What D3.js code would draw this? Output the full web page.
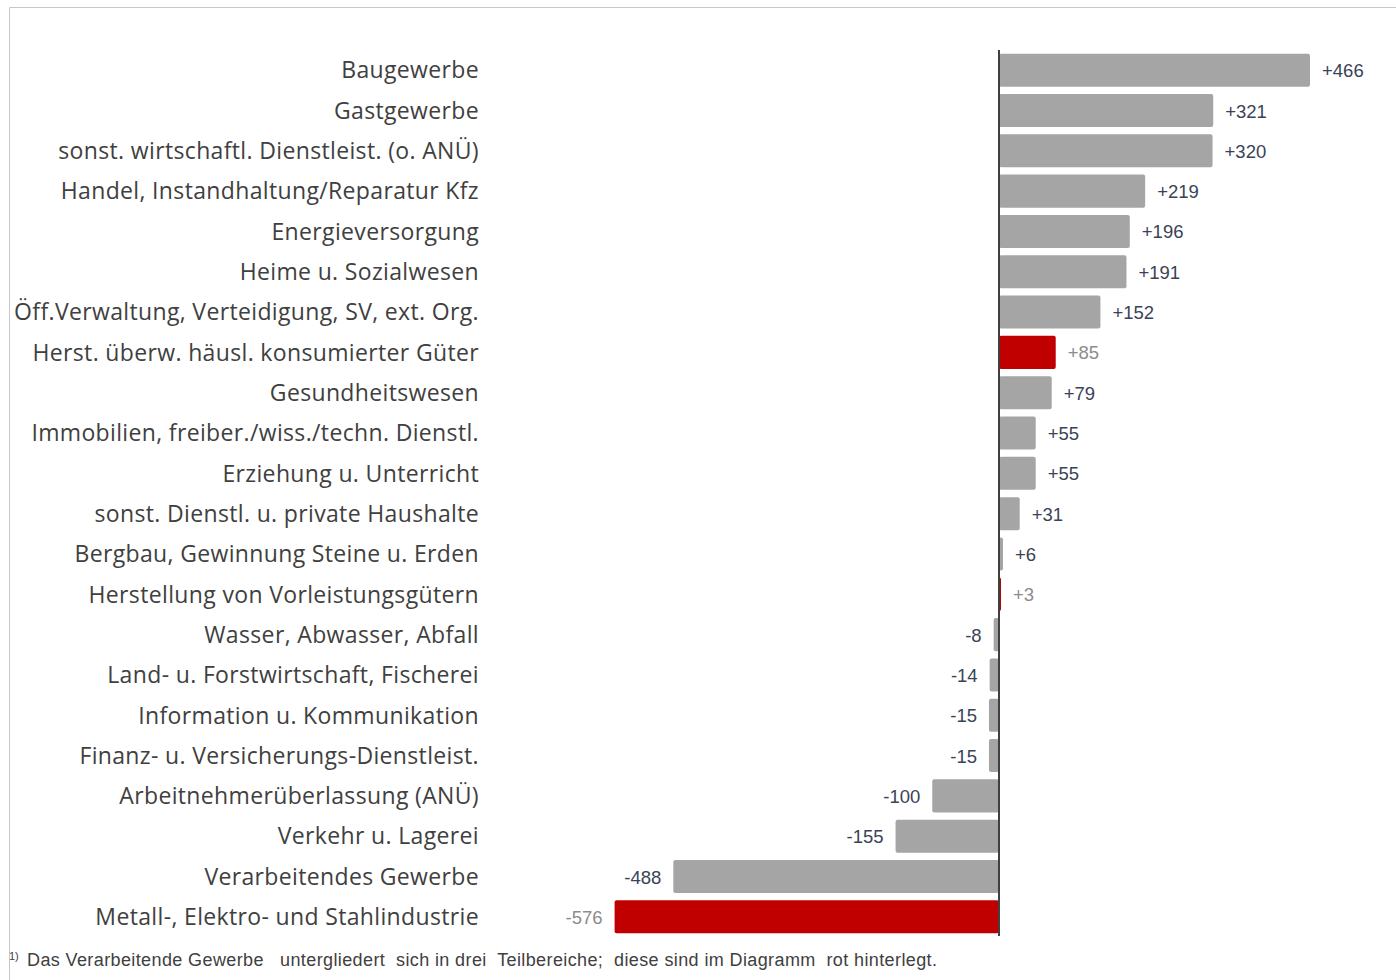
<!DOCTYPE html>
<html>
<head>
<meta charset="utf-8">
<script src="https://cdn.jsdelivr.net/npm/d3@7"></script>
<style>
  body { margin: 0; background: #fff; }
  svg { display: block; }
</style>
</head>
<body>
<script>
// branches, change in employees (sorted as in the picture)
var branches = [
  "Baugewerbe",
  "Gastgewerbe",
  "sonst. wirtschaftl. Dienstleist. (o. ANÜ)",
  "Handel, Instandhaltung/Reparatur Kfz",
  "Energieversorgung",
  "Heime u. Sozialwesen",
  "Öff.Verwaltung, Verteidigung, SV, ext. Org.",
  "Herst. überw. häusl. konsumierter Güter",
  "Gesundheitswesen",
  "Immobilien, freiber./wiss./techn. Dienstl.",
  "Erziehung u. Unterricht",
  "sonst. Dienstl. u. private Haushalte",
  "Bergbau, Gewinnung Steine u. Erden",
  "Herstellung von Vorleistungsgütern",
  "Wasser, Abwasser, Abfall",
  "Land- u. Forstwirtschaft, Fischerei",
  "Information u. Kommunikation",
  "Finanz- u. Versicherungs-Dienstleist.",
  "Arbeitnehmerüberlassung (ANÜ)",
  "Verkehr u. Lagerei",
  "Verarbeitendes Gewerbe",
  "Metall-, Elektro- und Stahlindustrie"
]

var changes = [466, 321, 320, 219, 196, 191, 152, 85, 79, 55, 55, 31, 6, 3,
               -8, -14, -15, -15, -100, -155, -488, -576]

// the three parts of "Verarbeitendes Gewerbe" are drawn red
var redOnes = ["Herst. überw. häusl. konsumierter Güter",
               "Herstellung von Vorleistungsgütern",
               "Metall-, Elektro- und Stahlindustrie"]

var footnote = "Das Verarbeitende Gewerbe   untergliedert  sich in drei  Teilbereiche;  diese sind im Diagramm  rot hinterlegt."

var rows = branches.map(function(b, i) {
  return {name: b, value: changes[i], red: redOnes.indexOf(b) >= 0}
})

var screen = {width: 1396, height: 980}

var svg = d3.select("body")
  .append("svg")
  .attr("width", screen.width)
  .attr("height", screen.height)

// frame round the chart (top and left edges visible)
svg.append("line")
  .attr("x1", 9.5).attr("x2", screen.width)
  .attr("y1", 7.5).attr("y2", 7.5)
  .attr("stroke", "#c8c8c8")
svg.append("line")
  .attr("x1", 9.5).attr("x2", 9.5)
  .attr("y1", 7.5).attr("y2", screen.height)
  .attr("stroke", "#c8c8c8")

var xScale = d3.scaleLinear()
  .domain([0, 466])
  .range([999, 1310])

var yScale = d3.scaleBand()
  .domain(branches)
  .range([50, 937])
  .paddingInner(0.18)
  .paddingOuter(0.09)

var bars = svg.append("g").attr("id", "bars")

bars.selectAll("rect")
  .data(rows)
  .enter()
  .append("rect")
  .attr("x", function(d) { return Math.min(xScale(0), xScale(d.value)) })
  .attr("y", function(d) { return yScale(d.name) })
  .attr("width", function(d) { return Math.max(2, Math.abs(xScale(d.value) - xScale(0))) })
  .attr("height", yScale.bandwidth())
  .attr("rx", 2)
  .attr("fill", function(d) { return d.red ? "#c00000" : "#a5a5a5" })

// value labels
bars.selectAll("text.val")
  .data(rows)
  .enter()
  .append("text")
  .attr("class", "val")
  .attr("x", function(d) {
    return d.value >= 0 ? Math.max(xScale(d.value), xScale(0) + 2) + 12 : xScale(d.value) - 12
  })
  .attr("y", function(d) { return yScale(d.name) + yScale.bandwidth() / 2 })
  .attr("dy", "0.38em")
  .attr("text-anchor", function(d) { return d.value >= 0 ? "start" : "end" })
  .style("font-family", "'Liberation Sans', Arial, sans-serif")
  .style("font-size", "18.5px")
  .attr("fill", function(d) { return d.red ? "#8c8c8c" : "#3a4356" })
  .text(function(d) { return (d.value > 0 ? "+" : "") + d.value })

// category labels
var yAxis = d3.axisLeft(yScale).tickSize(0).tickPadding(0)

svg.append("g")
  .attr("id", "yAxis")
  .attr("transform", "translate(479,0)")
  .call(yAxis)
  .call(function(g) { g.select(".domain").remove() })
  .selectAll("text")
  .attr("dy", "0.36em")
  .style("font-family", "'Open Sans', 'Noto Sans', sans-serif")
  .style("font-size", "23px")
  .style("letter-spacing", "0.35px")
  .attr("fill", "#404040")

// zero line
svg.append("line")
  .attr("x1", xScale(0)).attr("x2", xScale(0))
  .attr("y1", 50).attr("y2", 936)
  .attr("stroke", "#404040")
  .attr("stroke-width", 2)

// footnote
var fn = svg.append("text")
  .attr("y", 966)
  .style("font-family", "'Liberation Sans Narrow', 'Liberation Sans', Arial, sans-serif")
  .style("font-size", "18px")
  .style("white-space", "pre")
  .attr("fill", "#404040")
fn.append("tspan")
  .attr("x", 9)
  .attr("font-size", "11px")
  .attr("dy", "-6")
  .text("1)")
fn.append("tspan")
  .attr("x", 27)
  .attr("dy", "6")
  .attr("textLength", 910)
  .attr("lengthAdjust", "spacing")
  .text(footnote)
</script>
</body>
</html>
